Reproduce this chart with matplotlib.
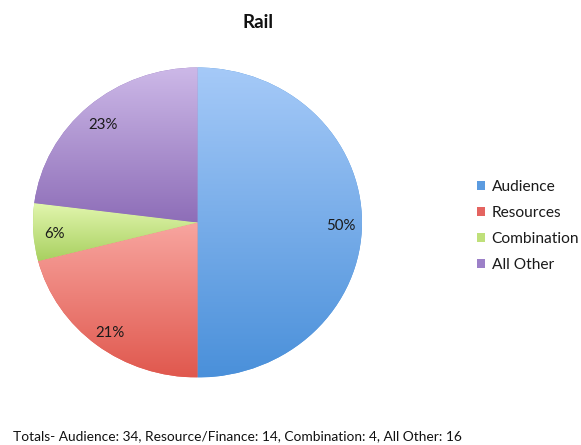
import numpy as np
import matplotlib
matplotlib.use("Agg")
import matplotlib.pyplot as plt
import matplotlib.transforms as mtransforms
from matplotlib.colors import LinearSegmentedColormap
from matplotlib.patches import Patch

plt.rcParams["font.family"] = ["Lato", "DejaVu Sans"]

# Data
categories = ["Audience", "Resources", "Combination", "All Other"]
shares_pct = [50, 21, 6, 23]
footer = "Totals- Audience: 34, Resource/Finance: 14, Combination: 4, All Other: 16"
title = "Rail"

# Per-slice gradient (top colour, bottom colour) and legend swatch colour
grad_top = ["#a6caf8", "#f8a6a0", "#e2f6ae", "#cdb9e8"]
grad_bot = ["#4a90da", "#e0584e", "#a8d060", "#8e6eb8"]
swatch = ["#5b9be0", "#e46460", "#bfe07a", "#9c80c8"]

W, H = 581, 445
fig = plt.figure(figsize=(W / 100, H / 100), dpi=100)

# Pie occupies a box of 329 x 310 px centred at (197.5, 222.5)
cx, cy, rx, ry = 197.5, 222.5, 164.5, 155.0
ax = fig.add_axes([(cx - rx) / W, (H - cy - ry) / H, 2 * rx / W, 2 * ry / H])

wedges, texts, autotexts = ax.pie(
    shares_pct, startangle=90, counterclock=False,
    colors=grad_bot, autopct="%1.0f%%", pctdistance=0.87,
    textprops=dict(fontsize=10.8, color="#1a1a1a"),
    wedgeprops=dict(linewidth=0),
)
ax.set_aspect("auto")
ax.axis("off")

# Vertical gradient fill clipped to each wedge
grad = np.linspace(0, 1, 256).reshape(-1, 1)
for w, top, bot in zip(wedges, grad_top, grad_bot):
    verts = w.get_path().vertices
    x0, x1 = verts[:, 0].min(), verts[:, 0].max()
    y0, y1 = verts[:, 1].min(), verts[:, 1].max()
    cmap = LinearSegmentedColormap.from_list("g", [bot, top])
    im = ax.imshow(grad, cmap=cmap, extent=[x0, x1, y0, y1],
                   origin="lower", aspect="auto", zorder=1.5,
                   interpolation="bilinear")
    im.set_clip_path(w)

# Nudge percentage labels slightly downward
shift = mtransforms.ScaledTranslation(0, -3.5 / 100, fig.dpi_scale_trans)
for t in autotexts:
    t.set_zorder(3)
    t.set_transform(t.get_transform() + shift)
ax.set_xlim(-1, 1)
ax.set_ylim(-1, 1)

fig.text(258 / W, 1 - 23 / H, title, ha="center", va="center",
         fontsize=13.5, fontweight="bold", color="#111111")

handles = [Patch(facecolor=c, edgecolor="none") for c in swatch]
fig.legend(handles, categories, loc="upper left",
           bbox_to_anchor=(471 / W, 1 - 174 / H), frameon=False,
           fontsize=11.2, handlelength=0.52, handleheight=0.5,
           handletextpad=0.4, labelspacing=0.76, borderaxespad=0,
           labelcolor="#1a1a1a")

fig.text(13 / W, 1 - 436 / H, footer, ha="left", va="center",
         fontsize=9.9, color="#111111")

fig.savefig("out.png", dpi=100, facecolor="white")
